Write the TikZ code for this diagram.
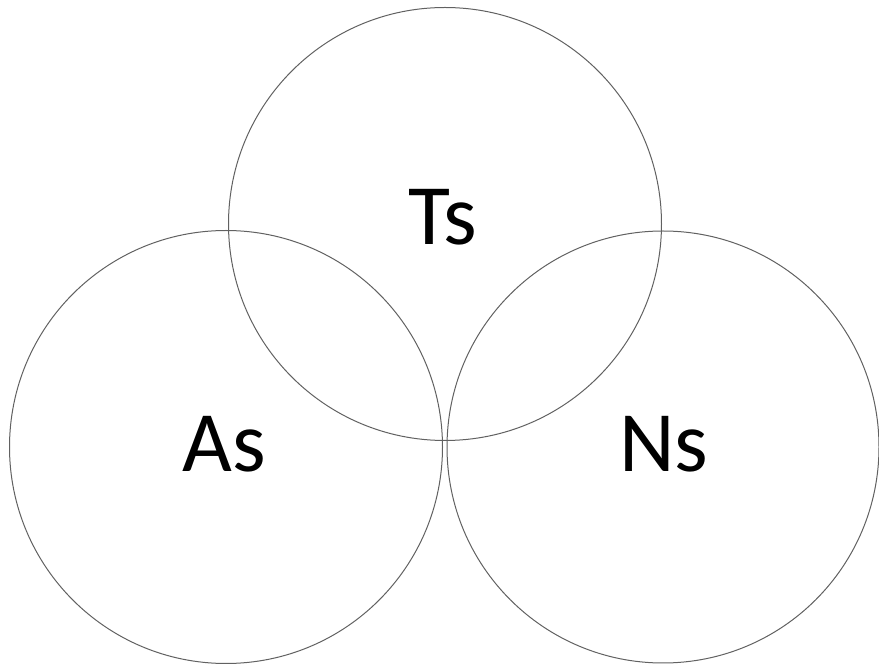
\documentclass[tikz,border=0pt]{standalone}
\usepackage{fontspec}
\setmainfont{Carlito}
\begin{document}
\begin{tikzpicture}[x=1pt,y=1pt,
  ring/.style={draw=black!62, line width=1pt},
  lbl/.style={font=\fontsize{86}{86}\selectfont, anchor=base, inner sep=0pt}]
\useasboundingbox (0,0) rectangle (879,667);
\draw[ring] (445,443) circle (216.5);
\draw[ring] (226,220) circle (216.5);
\draw[ring] (663,220) circle (216);
\node[lbl] (ts) at (443,422) {Ts};
\node[lbl] (as) at (224,195) {As};
\node[lbl] (ns) at (664,195) {Ns};
\end{tikzpicture}
\end{document}
